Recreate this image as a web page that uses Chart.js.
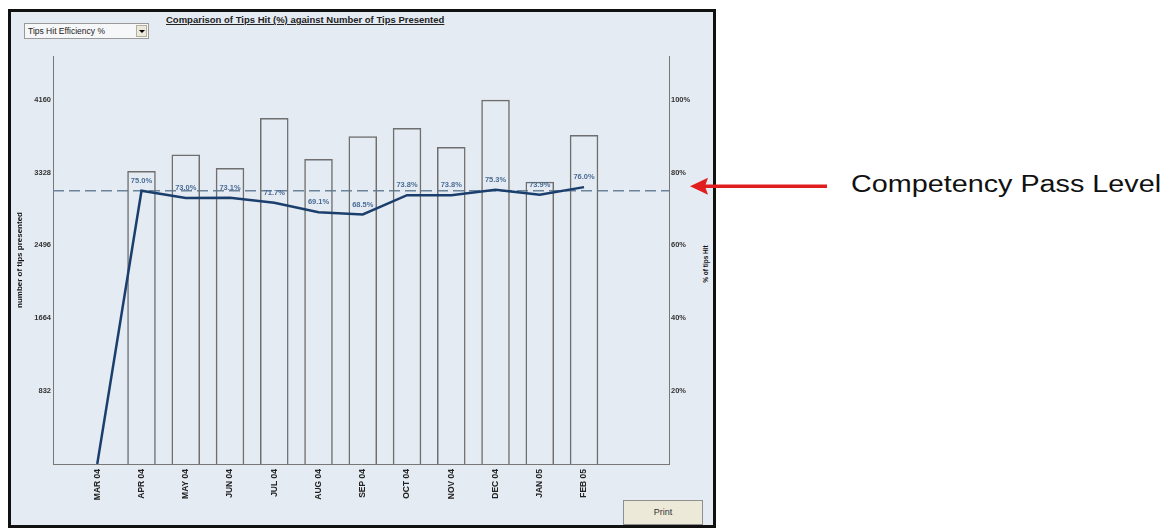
<!DOCTYPE html>
<html>
<head>
<meta charset="utf-8">
<script src="https://cdn.jsdelivr.net/npm/chart.js@4.4.1/dist/chart.umd.min.js"></script>
<style>
  html, body { margin: 0; padding: 0; background: #ffffff; width: 1172px; height: 529px; overflow: hidden; font-family: "Liberation Sans", Arial, sans-serif; }
  #frame { position: absolute; left: 8px; top: 9px; width: 708px; height: 519px; box-sizing: border-box; border: 3px solid #111; background: #e5ebf2; }
  #chartTitle { position: absolute; left: 166px; top: 14px; font-weight: bold; font-size: 9.5px; color: #222; text-decoration: underline; white-space: nowrap; }
  #dropdown { position: absolute; left: 24px; top: 23px; width: 125px; height: 16px; box-sizing: border-box; border: 1px solid #9a9a9a; background: #f6f7f9; font-size: 8.5px; color: #222; line-height: 14px; padding-left: 3px; white-space: nowrap; }
  #ddBtn { position: absolute; right: 1px; top: 1px; width: 11px; height: 12px; box-sizing: border-box; border: 1px solid #b5b09c; background: #ebe8dc; }
  #ddBtn:after { content: ""; position: absolute; left: 2px; top: 4px; border-left: 3px solid transparent; border-right: 3px solid transparent; border-top: 3px solid #000; }
  #printBtn { position: absolute; left: 623px; top: 500px; width: 80px; height: 25px; box-sizing: border-box; border: 1px solid #8f8f8f; background: #ece9d8; font-size: 9px; color: #333; text-align: center; line-height: 23px; }
  #note { position: absolute; left: 851px; top: 171px; font-size: 23px; color: #111; white-space: nowrap; transform-origin: 0 0; transform: scaleX(1.25); }
  #pctTitle { position: absolute; left: 704.5px; top: 264px; font-weight: bold; font-size: 6.5px; color: #111; white-space: nowrap; transform: translate(-50%, -50%) rotate(-90deg); }
  #c { position: absolute; left: 0; top: 0; }
</style>
</head>
<body>
<div id="frame"></div>
<div id="chartTitle">Comparison of Tips Hit (%) against Number of Tips Presented</div>
<div id="dropdown">Tips Hit Efficiency %<div id="ddBtn"></div></div>
<div id="printBtn">Print</div>
<div id="note">Competency Pass Level</div>
<div id="pctTitle">% of tips Hit</div>
<canvas id="c" width="1172" height="529"></canvas>
<script>
// ---- data ----
const months = ['MAR 04','APR 04','MAY 04','JUN 04','JUL 04','AUG 04','SEP 04','OCT 04','NOV 04','DEC 04','JAN 05','FEB 05'];
const tipsPresented = [null, 3347, 3533, 3381, 3951, 3484, 3742, 3837, 3621, 4160, 3222, 3757];
const tipsHitPct = [0, 75.0, 73.0, 73.1, 71.7, 69.1, 68.5, 73.8, 73.8, 75.3, 73.9, 76.0];
const countTicks = [832, 1664, 2496, 3328, 4160];
const pctTicks = [20, 40, 60, 80, 100];
const passLevel = 75;

const barPoints = months.map((m, i) => ({ x: i + 1, y: tipsPresented[i] }));
const linePoints = months.map((m, i) => ({ x: i + 1, y: tipsHitPct[i] }));

const passLinePlugin = {
  id: 'passLine',
  beforeDatasetsDraw(chart) {
    const { ctx, chartArea } = chart;
    const y = chart.scales.yPct.getPixelForValue(passLevel);
    ctx.save();
    ctx.strokeStyle = '#6a849c';
    ctx.lineWidth = 1.5;
    ctx.setLineDash([11, 5]);
    ctx.beginPath();
    ctx.moveTo(chartArea.left, y);
    ctx.lineTo(chartArea.right, y);
    ctx.stroke();
    ctx.restore();
  }
};

const valueLabelPlugin = {
  id: 'valueLabels',
  afterDatasetsDraw(chart) {
    const { ctx } = chart;
    const meta = chart.getDatasetMeta(0);
    ctx.save();
    ctx.font = 'bold 7.5px "Liberation Sans", Arial, sans-serif';
    ctx.fillStyle = '#4a6c96';
    ctx.textAlign = 'center';
    ctx.textBaseline = 'middle';
    meta.data.forEach((pt, i) => {
      const v = tipsHitPct[i];
      if (!v) return;
      ctx.fillText(v.toFixed(1) + '%', pt.x, pt.y - 10);
    });
    ctx.restore();
  }
};

const arrowPlugin = {
  id: 'arrow',
  afterDraw(chart) {
    const { ctx, chartArea } = chart;
    const y = chart.scales.yPct.getPixelForValue(passLevel) - 4.5;
    const tip = chartArea.right + 21;
    ctx.save();
    ctx.strokeStyle = '#e21d1d';
    ctx.fillStyle = '#e21d1d';
    ctx.lineWidth = 3.5;
    ctx.beginPath();
    ctx.moveTo(tip + 14, y);
    ctx.lineTo(tip + 137, y);
    ctx.stroke();
    ctx.beginPath();
    ctx.moveTo(tip, y);
    ctx.lineTo(tip + 18, y - 8.5);
    ctx.lineTo(tip + 15, y);
    ctx.lineTo(tip + 18, y + 8.5);
    ctx.closePath();
    ctx.fill();
    ctx.restore();
  }
};

const axisFont = { family: '"Liberation Sans", Arial, sans-serif', weight: 'bold' };

new Chart(document.getElementById('c'), {
  type: 'bar',
  data: {
    datasets: [
      {
        type: 'line',
        label: '% of tips Hit',
        data: linePoints,
        xAxisID: 'x',
        yAxisID: 'yPct',
        borderColor: '#1b3f6c',
        borderWidth: 2.5,
        pointRadius: 0,
        tension: 0,
        fill: false,
        order: 0
      },
      {
        type: 'bar',
        label: 'number of tips presented',
        data: barPoints,
        xAxisID: 'x',
        yAxisID: 'yCount',
        backgroundColor: 'rgba(0,0,0,0)',
        borderColor: '#6f6f6f',
        borderWidth: 1.5,
        borderSkipped: 'start',
        categoryPercentage: 1,
        barPercentage: 0.645,
        order: 1
      }
    ]
  },
  options: {
    responsive: false,
    devicePixelRatio: 1,
    animation: false,
    events: [],
    layout: { padding: { left: 11, top: 56, right: 459, bottom: 9 } },
    plugins: {
      legend: { display: false },
      tooltip: { enabled: false },
      title: { display: false }
    },
    scales: {
      x: {
        type: 'linear',
        position: 'bottom',
        offset: false,
        min: 0,
        max: 13.92,
        grid: { display: false, drawTicks: false },
        border: { display: true, color: '#777', width: 1 },
        afterBuildTicks(scale) { scale.ticks = months.map((m, i) => ({ value: i + 1 })); },
        afterFit(scale) { scale.height = 56; },
        ticks: {
          autoSkip: false,
          minRotation: 90,
          maxRotation: 90,
          padding: 5,
          color: '#222',
          font: Object.assign({ size: 8.5 }, axisFont),
          callback: (v) => months[v - 1] || ''
        }
      },
      yCount: {
        type: 'linear',
        position: 'left',
        min: 0,
        max: 4659.2,
        grid: { display: false, drawTicks: false },
        border: { display: true, color: '#777', width: 1 },
        afterBuildTicks(scale) { scale.ticks = countTicks.map(v => ({ value: v })); },
        afterFit(scale) { scale.width = 42; },
        ticks: {
          padding: 2,
          color: '#333',
          font: Object.assign({ size: 7.5 }, axisFont),
          callback: (v) => String(v)
        },
        title: {
          display: true,
          text: 'number of tips presented',
          color: '#111',
          padding: { top: 4, bottom: 0 },
          font: Object.assign({ size: 8 }, axisFont)
        }
      },
      yPct: {
        type: 'linear',
        position: 'right',
        min: 0,
        max: 112,
        grid: { display: false, drawTicks: false },
        border: { display: true, color: '#777', width: 1 },
        afterBuildTicks(scale) { scale.ticks = pctTicks.map(v => ({ value: v })); },
        afterFit(scale) { scale.width = 44; },
        ticks: {
          padding: 2,
          color: '#333',
          font: Object.assign({ size: 7.5 }, axisFont),
          callback: (v) => v + '%'
        }
      }
    }
  },
  plugins: [passLinePlugin, valueLabelPlugin, arrowPlugin]
});
</script>
</body>
</html>
